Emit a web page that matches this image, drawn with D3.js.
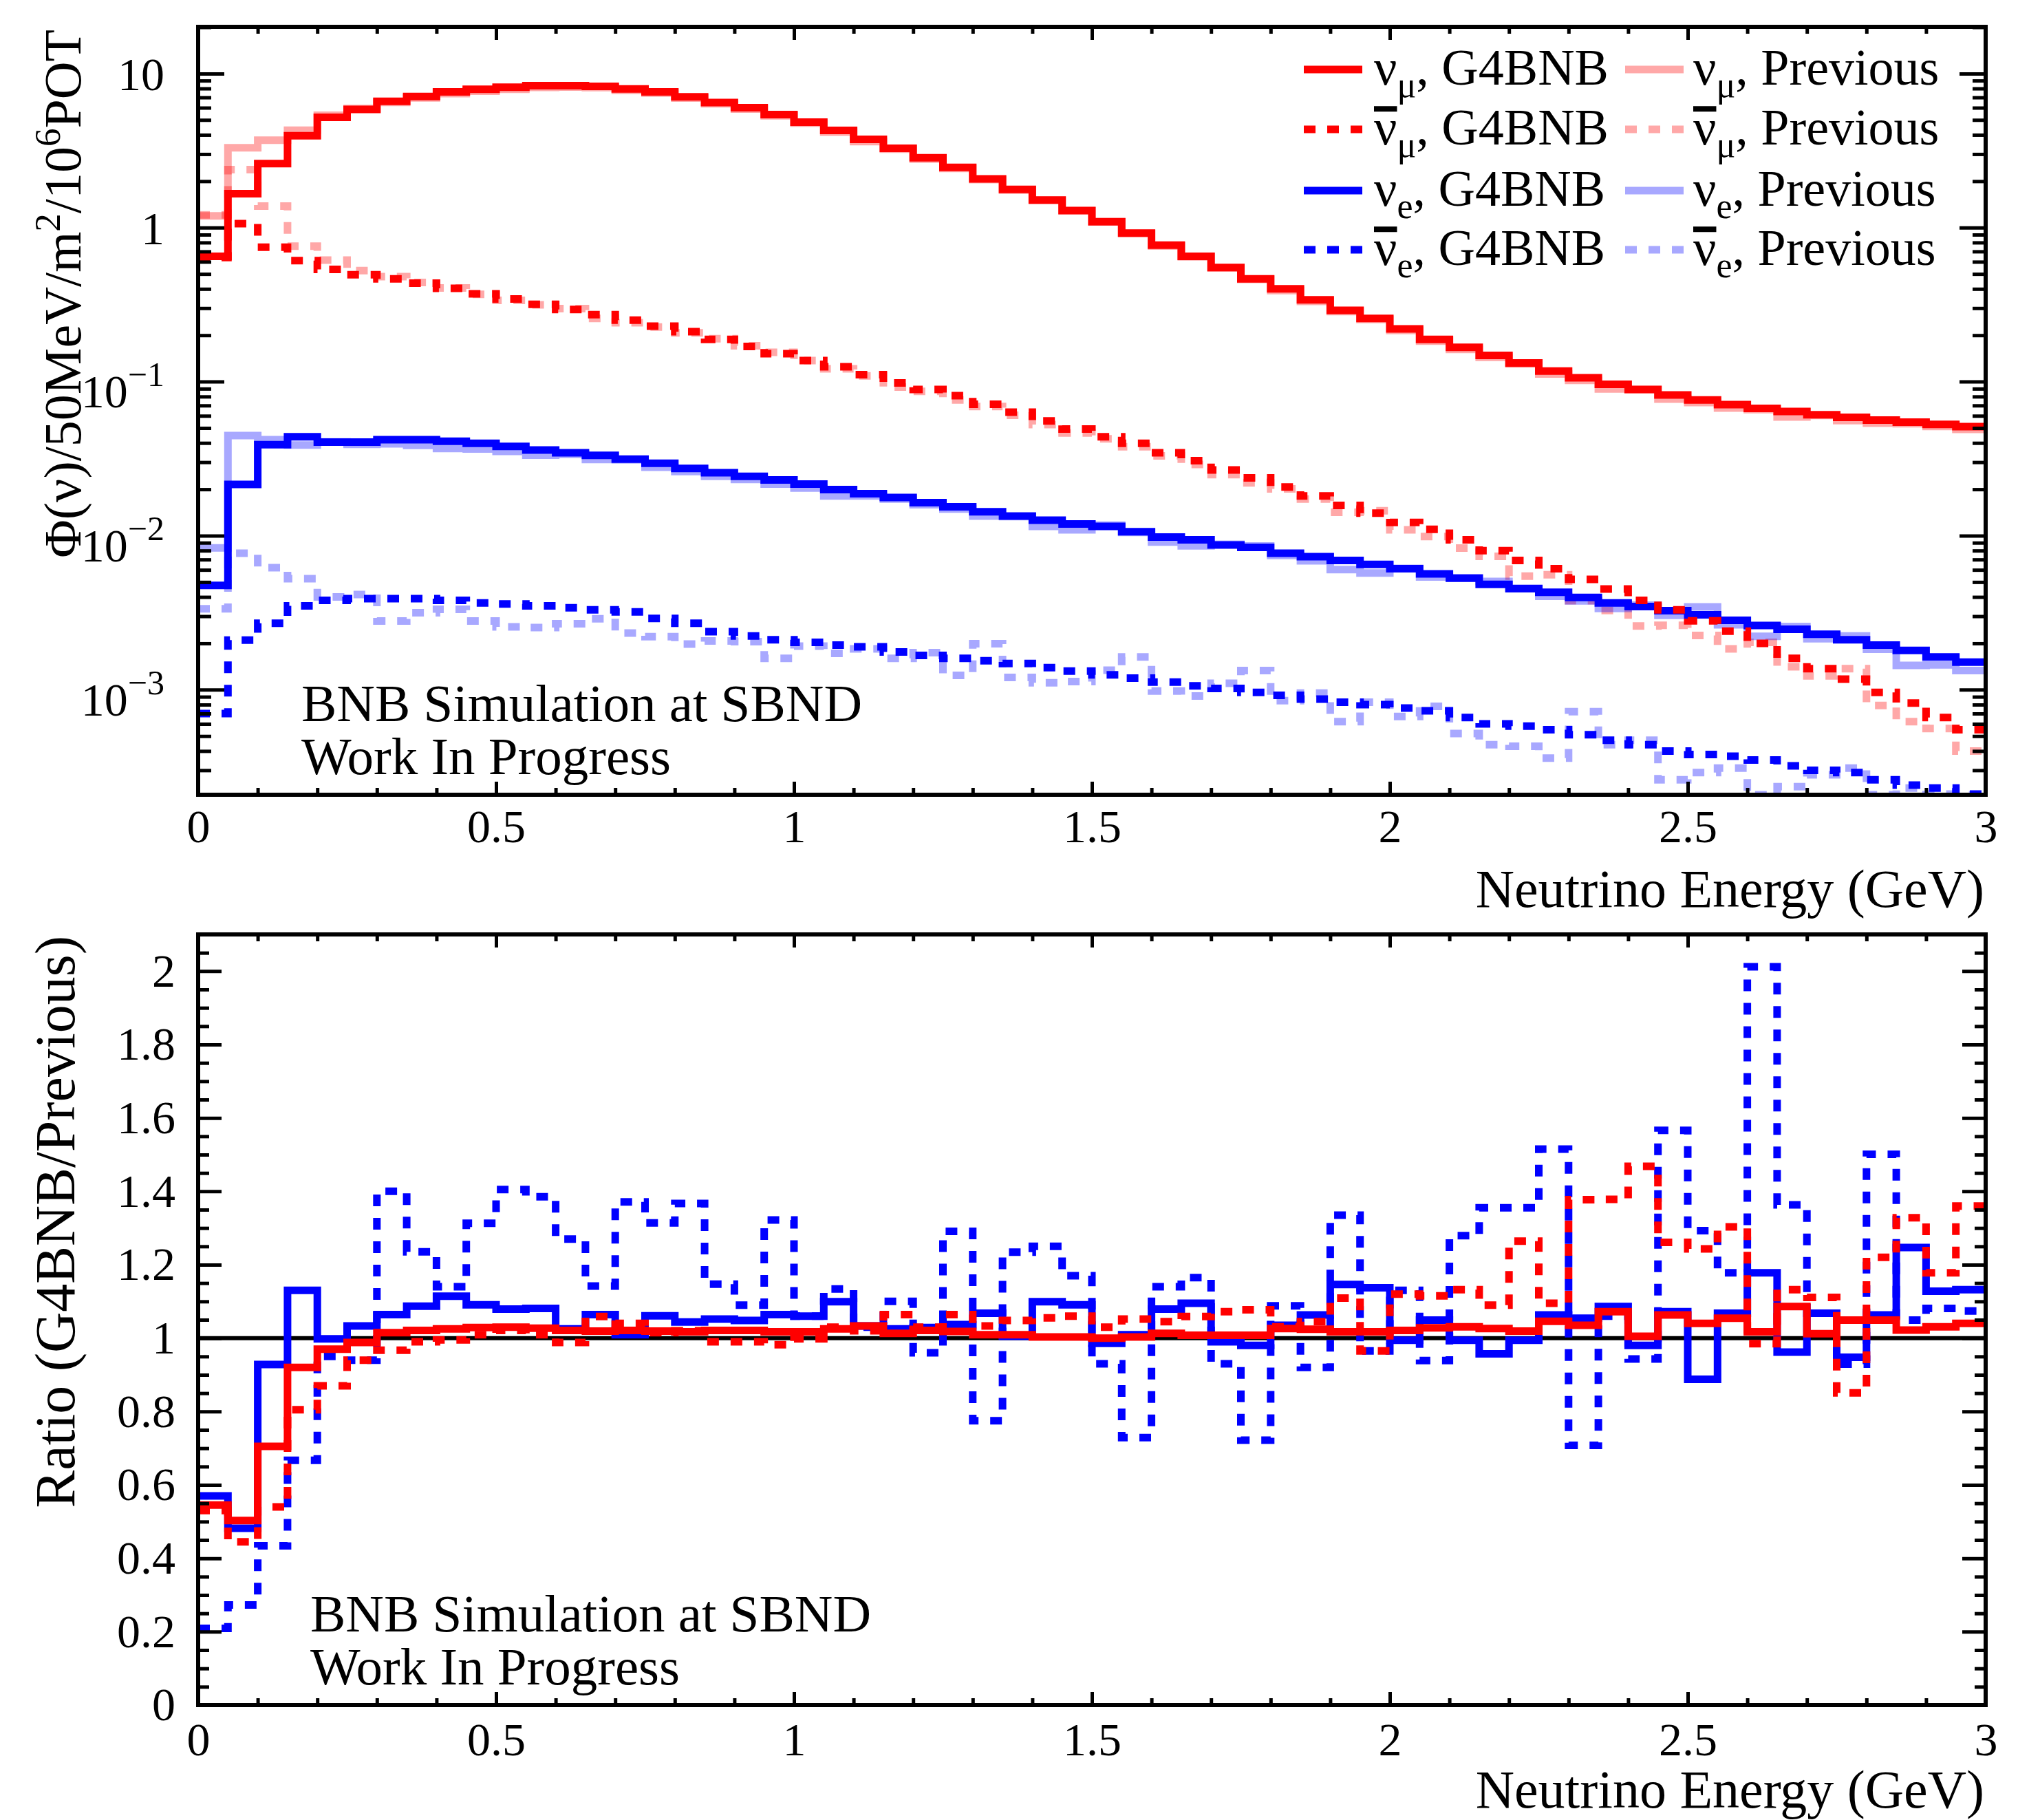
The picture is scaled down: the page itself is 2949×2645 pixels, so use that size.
<!DOCTYPE html>
<html>
<head>
<meta charset="utf-8">
<script src="https://cdn.jsdelivr.net/npm/d3@7"></script>
<style>
  body { margin: 0; background: #fff; }
  svg { display: block; }
</style>
</head>
<body>
<div id="chart"></div>
<script>
// 50 MeV bins from 0 to 3 GeV
const energyEdges = d3.range(61).map(i => i * 50 / 1000);

// flux per 50 MeV / m2 / 1e6 POT
const numuG4 = [0.65,1.66,2.6,3.95,5.2,5.85,6.6,7.1,7.6,7.9,
  8.15,8.35,8.35,8.25,7.95,7.6,7.05,6.49,6.0,5.41,
  4.84,4.27,3.74,3.27,2.84,2.46,2.07,1.77,1.51,1.29,
  1.09,0.92,0.77,0.65,0.55,0.465,0.40,0.34,0.29,0.257,
  0.22,0.188,0.167,0.148,0.132,0.117,0.106,0.096,0.089,0.082,
  0.076,0.071,0.067,0.064,0.061,0.0586,0.0563,0.0545,0.0528,0.051];
const numuPrev = [1.19,3.3,3.69,4.29,5.36,5.92,6.5,6.95,7.41,7.68,
  7.91,8.13,8.18,8.1,7.79,7.46,6.93,6.36,5.88,5.32,
  4.76,4.17,3.62,3.23,2.78,2.42,2.05,1.75,1.505,1.286,
  1.09,0.917,0.76,0.645,0.546,0.461,0.39,0.332,0.285,0.253,
  0.215,0.183,0.162,0.144,0.13,0.112,0.102,0.0896,0.0886,0.0771,
  0.0731,0.0674,0.0659,0.0589,0.0603,0.0559,0.0537,0.0533,0.0512,0.049];
const numubarG4 = [0.64,1.06,0.745,0.61,0.535,0.494,0.465,0.436,0.403,0.372,
  0.344,0.318,0.294,0.272,0.251,0.229,0.211,0.188,0.169,0.152,
  0.137,0.125,0.111,0.098,0.089,0.081,0.0713,0.0634,0.0555,0.0492,
  0.0438,0.0398,0.0345,0.0307,0.0267,0.0237,0.0207,0.0181,0.0157,0.014,
  0.0122,0.011,0.0094,0.008,0.0069,0.0061,0.0052,0.0045,0.0038,0.0033,
  0.0028,0.0024,0.002,0.0016,0.00137,0.00117,0.00096,0.00082,0.00066,0.00055];
const numubarPrev = [1.21,2.38,1.38,0.758,0.615,0.526,0.481,0.44,0.405,0.369,
  0.337,0.315,0.298,0.257,0.241,0.226,0.207,0.19,0.171,0.155,
  0.137,0.121,0.109,0.0921,0.0864,0.0761,0.069,0.0605,0.0526,0.0464,
  0.0425,0.0378,0.033,0.029,0.0249,0.022,0.0201,0.0173,0.0142,0.0145,
  0.0109,0.00987,0.0083,0.00734,0.00546,0.00557,0.00378,0.00327,0.00259,0.00262,
  0.00225,0.00184,0.00203,0.00141,0.00123,0.00137,0.00079,0.00062,0.00056,0.0004];
const nueG4 = [0.00475,0.0215,0.039,0.0438,0.0405,0.0405,0.042,0.042,0.041,0.0398,
  0.038,0.036,0.0345,0.0332,0.0314,0.0295,0.0273,0.0256,0.0243,0.023,
  0.0216,0.0199,0.0187,0.0177,0.0164,0.0154,0.0143,0.0134,0.0126,0.0119,
  0.0115,0.0106,0.0098,0.0094,0.0087,0.0084,0.0077,0.0073,0.0069,0.0065,
  0.0061,0.00565,0.0053,0.00483,0.00453,0.00429,0.00397,0.00366,0.00347,0.00326,
  0.00306,0.00282,0.00261,0.00247,0.00229,0.00211,0.00195,0.0018,0.00163,0.00151];
const nuePrev = [0.00833,0.0446,0.042,0.0388,0.0406,0.0392,0.0395,0.0386,0.0368,0.0365,
  0.0352,0.0333,0.0337,0.0312,0.0311,0.0278,0.0261,0.0243,0.0232,0.0216,
  0.0204,0.0181,0.0181,0.0173,0.0159,0.0149,0.0134,0.0133,0.0115,0.0109,
  0.0117,0.0105,0.00908,0.00858,0.00879,0.00857,0.00744,0.00687,0.00602,0.00572,
  0.00614,0.00539,0.00533,0.00505,0.00456,0.00404,0.00377,0.00337,0.00354,0.00304,
  0.00345,0.00264,0.00222,0.00257,0.00214,0.00223,0.00183,0.00144,0.00145,0.00133];
const nuebarG4 = [0.0007,0.0021,0.0027,0.0035,0.0038,0.0039,0.0039,0.0039,0.0038,0.00366,
  0.0036,0.0035,0.0034,0.0033,0.0032,0.0029,0.0027,0.00238,0.00223,0.00211,
  0.00203,0.00195,0.0019,0.00176,0.00167,0.0016,0.00154,0.00148,0.00139,0.00132,
  0.00125,0.00119,0.00112,0.00106,0.00102,0.00096,0.00092,0.00087,0.00083,0.0008,
  0.00076,0.00073,0.00066,0.0006,0.00058,0.00055,0.00051,0.00047,0.00044,0.0004,
  0.00038,0.00037,0.00035,0.00032,0.0003,0.00029,0.00026,0.00024,0.00023,0.00021];
const nuebarPrev = [0.00335,0.0077,0.0062,0.00525,0.004,0.00415,0.00279,0.00316,0.00333,0.00279,
  0.00256,0.00253,0.00268,0.00289,0.00233,0.00221,0.00198,0.00207,0.00205,0.0016,
  0.00192,0.00172,0.00184,0.0016,0.00174,0.00124,0.00199,0.0012,0.00111,0.00113,
  0.00134,0.00163,0.00098,0.00091,0.0011,0.00133,0.00085,0.00095,0.00062,0.00083,
  0.00067,0.00078,0.00052,0.00044,0.00043,0.00036,0.00072,0.00044,0.00047,0.00026,
  0.00029,0.00031,0.000174,0.000235,0.00028,0.00031,0.000173,0.00023,0.00021,0.000196];

// G4BNB / Previous
const ratioNumu = [0.545,0.503,0.705,0.92,0.97,0.988,1.015,1.021,1.025,1.029,
  1.03,1.027,1.021,1.019,1.021,1.019,1.017,1.021,1.021,1.017,
  1.017,1.025,1.033,1.013,1.021,1.018,1.009,1.009,1.003,1.003,
  1.0,1.003,1.013,1.008,1.008,1.008,1.026,1.024,1.017,1.017,
  1.021,1.028,1.031,1.026,1.019,1.046,1.035,1.072,1.005,1.063,
  1.04,1.054,1.017,1.086,1.012,1.049,1.049,1.022,1.031,1.04];
const ratioNumubar = [0.53,0.445,0.54,0.805,0.87,0.94,0.967,0.99,0.995,1.009,
  1.021,1.009,0.988,1.059,1.04,1.015,1.02,0.99,0.99,0.982,
  0.998,1.03,1.02,1.064,1.03,1.064,1.033,1.048,1.055,1.06,
  1.03,1.052,1.045,1.059,1.072,1.077,1.031,1.045,1.109,0.965,
  1.12,1.115,1.132,1.09,1.264,1.095,1.377,1.378,1.468,1.261,
  1.243,1.303,0.985,1.132,1.111,0.851,1.22,1.328,1.178,1.36];
const ratioNue = [0.57,0.482,0.928,1.13,0.998,1.033,1.064,1.087,1.114,1.091,
  1.079,1.081,1.025,1.064,1.009,1.061,1.044,1.052,1.048,1.064,
  1.06,1.099,1.033,1.025,1.029,1.037,1.068,1.005,1.099,1.091,
  0.986,1.009,1.079,1.095,0.99,0.98,1.035,1.063,1.146,1.137,
  0.994,1.049,0.994,0.957,0.994,1.063,1.054,1.086,0.98,1.072,
  0.888,1.068,1.178,0.962,1.068,0.948,1.063,1.247,1.128,1.132];
const ratioNuebar = [0.209,0.273,0.434,0.667,0.95,0.94,1.40,1.235,1.14,1.313,
  1.405,1.385,1.27,1.142,1.371,1.314,1.367,1.147,1.09,1.322,
  1.06,1.134,1.03,1.10,0.96,1.291,0.775,1.234,1.25,1.17,
  0.93,0.729,1.14,1.165,0.93,0.722,1.088,0.92,1.335,0.965,
  1.13,0.939,1.279,1.355,1.355,1.515,0.708,1.06,0.943,1.566,
  1.293,1.178,2.012,1.363,1.068,0.929,1.501,1.049,1.081,1.074];

const xTickLabels = [0, 0.5, 1, 1.5, 2, 2.5, 3];
const fluxTickLabels = [1e-3, 1e-2, 1e-1, 1, 10];
const ratioTickLabels = [0, 0.2, 0.4, 0.6, 0.8, 1, 1.2, 1.4, 1.6, 1.8, 2];

const RED = "#ff0000", BLUE = "#0000ff";
const FONT = "'Liberation Serif','Times New Roman',serif";
const W = 2949, H = 2645;
const xLeft = 288, xRight = 2886;
const topPad = { y0: 39, y1: 1155 };
const botPad = { y0: 1358, y1: 2478 };
const LW = 11, DASH = "17,17";
const TICK_FS = 68;

const svg = d3.select("#chart").append("svg")
  .attr("width", W)
  .attr("height", H)
  .attr("font-family", FONT);
svg.append("rect").attr("width", W).attr("height", H).attr("fill", "#fff");

const x = d3.scaleLinear().domain([0, 3]).range([xLeft, xRight]);
const yFlux = d3.scaleLog().domain([2.08e-4, 20.1]).range([topPad.y1, topPad.y0]).clamp(true);
const yRatio = d3.scaleLinear().domain([0, 2.1]).range([botPad.y1, botPad.y0]).clamp(true);

function binPoints(vals) {
  const pts = vals.map((v, i) => [energyEdges[i], v]);
  pts.push([energyEdges[vals.length], vals[vals.length - 1]]);
  return pts;
}

function stepLine(yScale) {
  return d3.line()
    .x(d => x(d[0]))
    .y(d => yScale(d[1]))
    .curve(d3.curveStepAfter);
}

function clipFor(id, pad) {
  svg.append("clipPath").attr("id", id)
    .append("rect")
    .attr("x", xLeft).attr("y", pad.y0)
    .attr("width", xRight - xLeft).attr("height", pad.y1 - pad.y0);
}
clipFor("clipTop", topPad);
clipFor("clipBot", botPad);

function drawHists(series, yScale, clipId) {
  const g = svg.append("g").attr("clip-path", `url(#${clipId})`);
  g.selectAll("path")
    .data(series)
    .join("path")
    .attr("d", s => stepLine(yScale)(binPoints(s.values)))
    .attr("fill", "none")
    .attr("stroke", s => s.color)
    .attr("stroke-opacity", s => s.opacity)
    .attr("stroke-width", LW)
    .attr("stroke-dasharray", s => s.dashed ? DASH : null)
    .attr("stroke-linejoin", "miter");
}

// x ticks on bottom and top edges of a pad
function xAxes(pad, labelPad) {
  const minor = d3.range(1, 30).map(i => i / 10).filter(v => Math.abs(v * 2 - Math.round(v * 2)) > 1e-6);
  const bottom = svg.append("g").attr("transform", `translate(0,${pad.y1})`);
  bottom.call(d3.axisBottom(x).tickValues(xTickLabels).tickSizeInner(-19).tickSizeOuter(0)
    .tickPadding(labelPad).tickFormat(d3.format("")));
  bottom.append("g").call(d3.axisBottom(x).tickValues(minor).tickSizeInner(-10).tickSizeOuter(0).tickFormat(""));
  const topAx = svg.append("g").attr("transform", `translate(0,${pad.y0})`);
  topAx.call(d3.axisTop(x).tickValues(xTickLabels).tickSizeInner(-19).tickSizeOuter(0).tickFormat(""));
  topAx.append("g").call(d3.axisTop(x).tickValues(minor).tickSizeInner(-10).tickSizeOuter(0).tickFormat(""));
  [bottom, topAx].forEach(a => {
    a.attr("font-family", FONT).attr("font-size", TICK_FS);
    a.selectAll(".domain").remove();
    a.selectAll("line").attr("stroke-width", 5);
  });
}

function yAxes(yScale, major, minor, majLen, minLen, fmt, labelPad) {
  const left = svg.append("g").attr("transform", `translate(${xLeft},0)`);
  left.call(d3.axisLeft(yScale).tickValues(major).tickSizeInner(-majLen).tickSizeOuter(0)
    .tickPadding(labelPad).tickFormat(fmt));
  left.append("g").call(d3.axisLeft(yScale).tickValues(minor).tickSizeInner(-minLen).tickSizeOuter(0).tickFormat(""));
  const right = svg.append("g").attr("transform", `translate(${xRight},0)`);
  right.call(d3.axisRight(yScale).tickValues(major).tickSizeInner(-majLen).tickSizeOuter(0).tickFormat(""));
  right.append("g").call(d3.axisRight(yScale).tickValues(minor).tickSizeInner(-minLen).tickSizeOuter(0).tickFormat(""));
  [left, right].forEach(a => {
    a.attr("font-family", FONT).attr("font-size", TICK_FS);
    a.selectAll(".domain").remove();
    a.selectAll("line").attr("stroke-width", 5);
  });
  return left;
}

function frame(pad) {
  svg.append("rect")
    .attr("x", xLeft).attr("y", pad.y0)
    .attr("width", xRight - xLeft).attr("height", pad.y1 - pad.y0)
    .attr("fill", "none").attr("stroke", "#000").attr("stroke-width", 6);
}

// ---------- top pad: flux ----------
drawHists([
  { values: numuPrev, color: RED, opacity: 0.34, dashed: false },
  { values: numubarPrev, color: RED, opacity: 0.34, dashed: true },
  { values: nuePrev, color: BLUE, opacity: 0.34, dashed: false },
  { values: nuebarPrev, color: BLUE, opacity: 0.34, dashed: true },
  { values: nueG4, color: BLUE, opacity: 1, dashed: false },
  { values: nuebarG4, color: BLUE, opacity: 1, dashed: true },
  { values: numuG4, color: RED, opacity: 1, dashed: false },
  { values: numubarG4, color: RED, opacity: 1, dashed: true }
], yFlux, "clipTop");

const fluxMinor = [];
[-4, -3, -2, -1, 0, 1].forEach(e => d3.range(2, 10).forEach(m => {
  const v = m * Math.pow(10, e);
  if (v > yFlux.domain()[0] && v < yFlux.domain()[1]) fluxMinor.push(v);
}));
yAxes(yFlux, fluxTickLabels, fluxMinor, 38, 19, "", 0);
fluxTickLabels.forEach(v => {
  const e = Math.round(Math.log10(v));
  const t = svg.append("text")
    .attr("x", xLeft - 49).attr("y", yFlux(v))
    .attr("text-anchor", "end").attr("font-size", TICK_FS);
  if (e >= 0) {
    t.attr("dy", "0.35em").text(String(v));
  } else {
    t.attr("dy", "0.55em").text("10");
    t.append("tspan").attr("dy", -31).attr("font-size", 50).text("\u2212" + (-e));
  }
});
xAxes(topPad, 21);
frame(topPad);

svg.append("text")
  .attr("x", 2884).attr("y", 1318)
  .attr("text-anchor", "end").attr("font-size", 78)
  .text("Neutrino Energy (GeV)");

const fluxTitle = svg.append("text")
  .attr("transform", "translate(117,43) rotate(-90)")
  .attr("text-anchor", "end").attr("font-size", 76);
fluxTitle.append("tspan").text("\u03A6(\u03BD)/50MeV/m");
fluxTitle.append("tspan").attr("dy", -30).attr("font-size", 53).text("2");
fluxTitle.append("tspan").attr("dy", 30).text("/10");
fluxTitle.append("tspan").attr("dy", -30).attr("font-size", 53).text("6");
fluxTitle.append("tspan").attr("dy", 30).text("POT");

function simLabel(x0, yBase) {
  const t = svg.append("text").attr("x", x0).attr("y", yBase).attr("font-size", 77);
  t.append("tspan").attr("x", x0).text("BNB Simulation at SBND");
  t.append("tspan").attr("x", x0).attr("dy", 77).text("Work In Progress");
}
simLabel(438, 1048);

// legend
const legendRows = [
  { sub: "\u03BC", bar: false, color: RED, dashed: false },
  { sub: "\u03BC", bar: true, color: RED, dashed: true },
  { sub: "e", bar: false, color: BLUE, dashed: false },
  { sub: "e", bar: true, color: BLUE, dashed: true }
];
const legendCols = [
  { label: "G4BNB", opacity: 1, lineX: 1895, textX: 1997 },
  { label: "Previous", opacity: 0.34, lineX: 2362, textX: 2461 }
];
const legendRowY = [101, 188, 277, 363];
const LEG_FS = 74;
const leg = svg.append("g");
legendRows.forEach((row, r) => {
  legendCols.forEach(col => {
    const ly = legendRowY[r];
    leg.append("line")
      .attr("x1", col.lineX).attr("x2", col.lineX + 85)
      .attr("y1", ly).attr("y2", ly)
      .attr("stroke", row.color).attr("stroke-opacity", col.opacity)
      .attr("stroke-width", LW)
      .attr("stroke-dasharray", row.dashed ? DASH : null);
    const yb = ly + 22;
    const t = leg.append("text").attr("x", col.textX).attr("y", yb).attr("font-size", LEG_FS);
    t.append("tspan").text("\u03BD");
    t.append("tspan").attr("dy", 18).attr("font-size", 52).text(row.sub);
    t.append("tspan").attr("dy", -18).text(", " + col.label);
    if (row.bar) {
      const n = t.node();
      const s = n.getStartPositionOfChar(0), e = n.getEndPositionOfChar(0);
      leg.append("line")
        .attr("x1", s.x).attr("x2", e.x)
        .attr("y1", yb - 0.7 * LEG_FS).attr("y2", yb - 0.7 * LEG_FS)
        .attr("stroke", "#000").attr("stroke-width", 8);
    }
  });
});

// ---------- bottom pad: ratio ----------
svg.append("line")
  .attr("x1", x(0)).attr("x2", x(3))
  .attr("y1", yRatio(1)).attr("y2", yRatio(1))
  .attr("stroke", "#000").attr("stroke-width", 6);

drawHists([
  { values: ratioNue, color: BLUE, opacity: 1, dashed: false },
  { values: ratioNuebar, color: BLUE, opacity: 1, dashed: true },
  { values: ratioNumu, color: RED, opacity: 1, dashed: false },
  { values: ratioNumubar, color: RED, opacity: 1, dashed: true }
], yRatio, "clipBot");

const ratioMinor = d3.range(0, 43).map(i => i * 0.05).filter(v => Math.abs(v * 5 - Math.round(v * 5)) > 1e-6 && v < 2.1);
yAxes(yRatio, ratioTickLabels, ratioMinor, 34, 16, d3.format(""), 33);
xAxes(botPad, 25);
frame(botPad);

svg.append("text")
  .attr("x", 2884).attr("y", 2627)
  .attr("text-anchor", "end").attr("font-size", 78)
  .text("Neutrino Energy (GeV)");
svg.append("text")
  .attr("transform", "translate(108,1360) rotate(-90)")
  .attr("text-anchor", "end").attr("font-size", 82)
  .text("Ratio (G4BNB/Previous)");

simLabel(451, 2371);
</script>
</body>
</html>
